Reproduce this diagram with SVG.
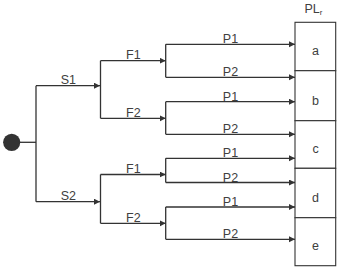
<svg xmlns="http://www.w3.org/2000/svg" width="352" height="271" viewBox="0 0 352 271">
<defs>
<marker id="arr" markerUnits="userSpaceOnUse" markerWidth="7" markerHeight="7" refX="6" refY="3" orient="auto">
<path d="M0,0 L6,3 L0,6 z" fill="#333"/>
</marker>
<style>
.ln{fill:none;stroke:#333;stroke-width:1.3}
.ar{fill:none;stroke:#333;stroke-width:1.3;marker-end:url(#arr)}
.lbl{font-family:"Liberation Sans",Arial,sans-serif;font-size:12.5px;fill:#404040;text-anchor:middle}
.cell{fill:#fff;stroke:#333;stroke-width:1.1}
</style>
</defs>
<rect width="352" height="271" fill="#fff"/>
<g id="start">
<circle cx="11.7" cy="142.3" r="8.6" fill="#333"/>
</g>
<g id="table">
<text class="lbl" x="313.5" y="12.7">PL<tspan font-size="8" dy="2">r</tspan></text>
<g id="cell-a"><rect class="cell" x="295" y="22.3" width="40.7" height="48.4"/><text class="lbl" x="315.5" y="55">a</text></g>
<g id="cell-b"><rect class="cell" x="295" y="70.7" width="40.7" height="50"/><text class="lbl" x="315.5" y="105">b</text></g>
<g id="cell-c"><rect class="cell" x="295" y="120.7" width="40.7" height="47.6"/><text class="lbl" x="315.5" y="153.3">c</text></g>
<g id="cell-d"><rect class="cell" x="295" y="168.3" width="40.7" height="49.4"/><text class="lbl" x="315.5" y="201.7">d</text></g>
<g id="cell-e"><rect class="cell" x="295" y="217.7" width="40.7" height="48"/><text class="lbl" x="315.5" y="250">e</text></g>
</g>
<g id="connectors">
<line class="ln" x1="20" y1="142.3" x2="36" y2="142.3"/>
<line class="ln" x1="36" y1="85.7" x2="36" y2="201.7"/>
<line class="ar" x1="36" y1="85.7" x2="100" y2="85.7"/>
<line class="ar" x1="36" y1="201.7" x2="100" y2="201.7"/>
<text class="lbl" x="68.3" y="84">S1</text>
<text class="lbl" x="68.3" y="200">S2</text>
<line class="ln" x1="100.5" y1="60.7" x2="100.5" y2="118.3"/>
<line class="ln" x1="100.5" y1="174.5" x2="100.5" y2="223.3"/>
<line class="ar" x1="100.5" y1="60.7" x2="165.7" y2="60.7"/>
<line class="ar" x1="100.5" y1="118.3" x2="165.7" y2="118.3"/>
<line class="ar" x1="100.5" y1="174.5" x2="165.7" y2="174.5"/>
<line class="ar" x1="100.5" y1="223.3" x2="165.7" y2="223.3"/>
<text class="lbl" x="133.3" y="59.3">F1</text>
<text class="lbl" x="133.3" y="117">F2</text>
<text class="lbl" x="133.3" y="173">F1</text>
<text class="lbl" x="133.3" y="222">F2</text>
<line class="ln" x1="165.7" y1="44.3" x2="165.7" y2="77.3"/>
<line class="ln" x1="165.7" y1="101.7" x2="165.7" y2="134.3"/>
<line class="ln" x1="165.7" y1="158.3" x2="165.7" y2="182.5"/>
<line class="ln" x1="165.7" y1="207" x2="165.7" y2="239.3"/>
<line class="ar" x1="165.7" y1="44.3" x2="295" y2="44.3"/>
<line class="ar" x1="165.7" y1="77.3" x2="295" y2="77.3"/>
<line class="ar" x1="165.7" y1="101.7" x2="295" y2="101.7"/>
<line class="ar" x1="165.7" y1="134.3" x2="295" y2="134.3"/>
<line class="ar" x1="165.7" y1="158.3" x2="295" y2="158.3"/>
<line class="ar" x1="165.7" y1="182.5" x2="295" y2="182.5"/>
<line class="ar" x1="165.7" y1="207" x2="295" y2="207"/>
<line class="ar" x1="165.7" y1="239.3" x2="295" y2="239.3"/>
<text class="lbl" x="230.5" y="43.3">P1</text>
<text class="lbl" x="230.5" y="76.3">P2</text>
<text class="lbl" x="230.5" y="100.7">P1</text>
<text class="lbl" x="230.5" y="133.3">P2</text>
<text class="lbl" x="230.5" y="157.3">P1</text>
<text class="lbl" x="230.5" y="181.5">P2</text>
<text class="lbl" x="230.5" y="206">P1</text>
<text class="lbl" x="230.5" y="238.3">P2</text>
</g>
</svg>
